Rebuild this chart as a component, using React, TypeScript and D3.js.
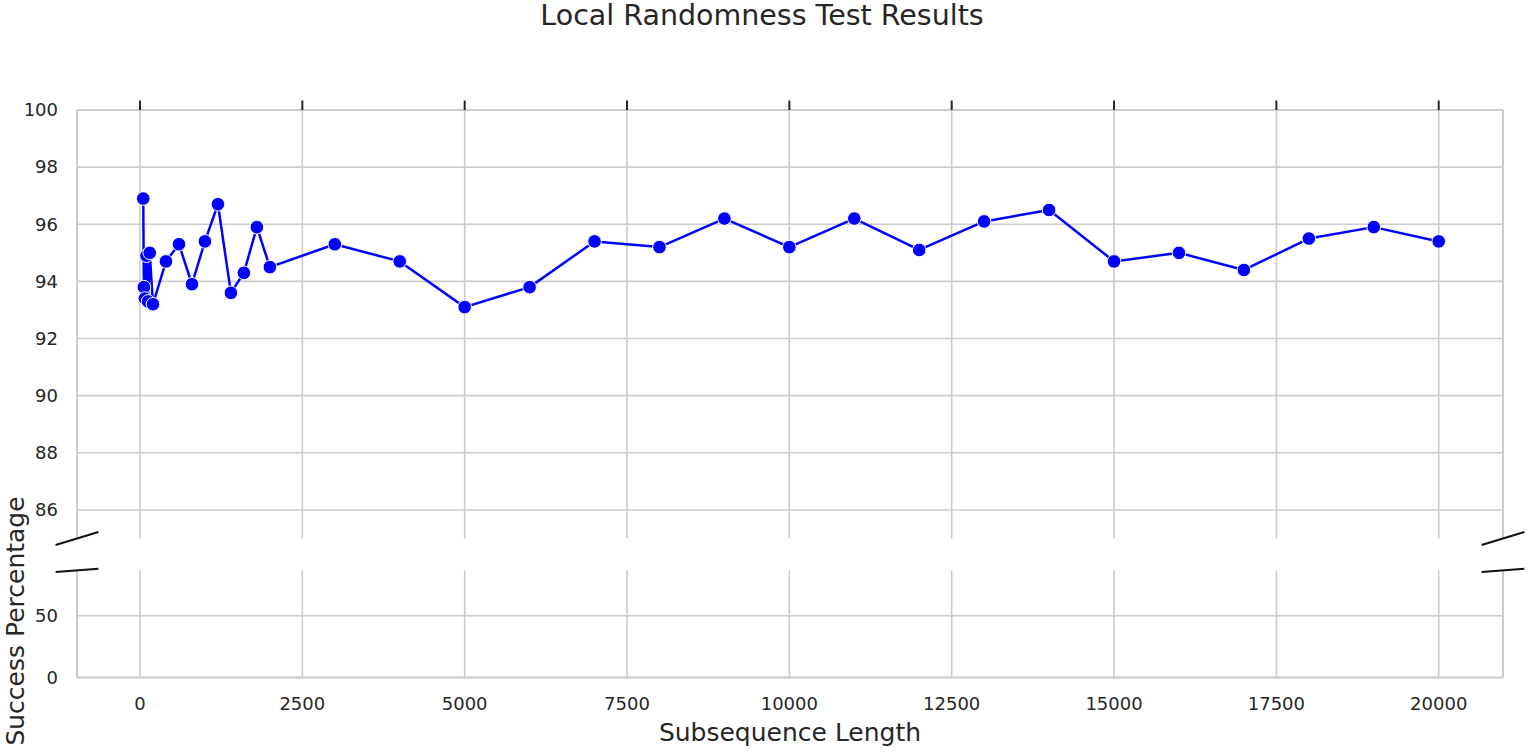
import React from "react";
import * as d3 from "d3";

const subseqLengths = [
  50, 60, 75, 100, 125, 150, 200, 400, 600, 800, 1000, 1200, 1400, 1600, 1800, 2000,
  3000, 4000, 5000, 6000, 7000, 8000, 9000, 10000, 11000, 12000, 13000, 14000, 15000,
  16000, 17000, 18000, 19000, 20000,
];
const successPct = [
  96.9, 93.8, 93.4, 94.9, 93.3, 95.0, 93.2, 94.7, 95.3, 93.9, 95.4, 96.7, 93.6, 94.3, 95.9, 94.5,
  95.3, 94.7, 93.1, 93.8, 95.4, 95.2, 96.2, 95.2, 96.2, 95.1, 96.1, 96.5, 94.7,
  95.0, 94.4, 95.5, 95.9, 95.4,
];
const xTicks = [0, 2500, 5000, 7500, 10000, 12500, 15000, 17500, 20000];
const yTicksTop = [86, 88, 90, 92, 94, 96, 98, 100];
const yTicksBottom = [0, 50];

const W = 1535;
const H = 752;
const L = 77;
const R = 1503;
const topY0 = 110;
const topY1 = 538.5;
const botY0 = 570.3;
const botY1 = 677.5;

const GRID = "#cccccc";
const TEXT = "#262626";
const FONT = "'DejaVu Sans', sans-serif";

export default function App() {
  const x = d3.scaleLinear().domain([-970, 20990]).range([L, R]);
  const yTop = d3.scaleLinear().domain([85, 100]).range([topY1, topY0]);
  const yBot = d3.scaleLinear().domain([0, 86.7]).range([botY1, botY0]);

  const pts = subseqLengths.map((d, i) => [d, successPct[i]] as [number, number]);
  const line = d3
    .line<[number, number]>()
    .x((d) => x(d[0]))
    .y((d) => yTop(d[1]));

  const dTopX = 0.015 * (R - L);
  const dTopY = 0.015 * (topY1 - topY0);
  const dBotY = 0.015 * (botY1 - botY0);

  return (
    <svg
      width={W}
      height={H}
      style={{ position: "absolute", left: 0, top: 0, background: "#fff" }}
      fontFamily={FONT}
    >
      <rect x={0} y={0} width={W} height={H} fill="#fff" />
      <text x={762} y={25} textAnchor="middle" fontSize={28.5} fill={TEXT}>
        Local Randomness Test Results
      </text>

      {yTicksTop.map((t) => (
        <line key={"gt" + t} x1={L} x2={R} y1={yTop(t)} y2={yTop(t)} stroke={GRID} strokeWidth={1.6} />
      ))}
      {xTicks.map((t) => (
        <line key={"gvt" + t} x1={x(t)} x2={x(t)} y1={topY0} y2={topY1} stroke={GRID} strokeWidth={1.6} />
      ))}
      {yTicksBottom.map((t) => (
        <line key={"gb" + t} x1={L} x2={R} y1={yBot(t)} y2={yBot(t)} stroke={GRID} strokeWidth={1.6} />
      ))}
      {xTicks.map((t) => (
        <line key={"gvb" + t} x1={x(t)} x2={x(t)} y1={botY0} y2={botY1} stroke={GRID} strokeWidth={1.6} />
      ))}

      <line x1={L} x2={R} y1={topY0} y2={topY0} stroke={GRID} strokeWidth={2} />
      <line x1={L} x2={L} y1={topY0} y2={topY1} stroke={GRID} strokeWidth={2} />
      <line x1={R} x2={R} y1={topY0} y2={topY1} stroke={GRID} strokeWidth={2} />
      <line x1={L} x2={R} y1={botY1} y2={botY1} stroke={GRID} strokeWidth={2} />
      <line x1={L} x2={L} y1={botY0} y2={botY1} stroke={GRID} strokeWidth={2} />
      <line x1={R} x2={R} y1={botY0} y2={botY1} stroke={GRID} strokeWidth={2} />

      {xTicks.map((t) => (
        <line key={"tt" + t} x1={x(t)} x2={x(t)} y1={topY0 - 9.5} y2={topY0} stroke={TEXT} strokeWidth={2} />
      ))}

      <g stroke="#111" strokeWidth={2}>
        <line x1={L - dTopX} y1={topY1 + dTopY} x2={L + dTopX} y2={topY1 - dTopY} />
        <line x1={R - dTopX} y1={topY1 + dTopY} x2={R + dTopX} y2={topY1 - dTopY} />
        <line x1={L - dTopX} y1={botY0 + dBotY} x2={L + dTopX} y2={botY0 - dBotY} />
        <line x1={R - dTopX} y1={botY0 + dBotY} x2={R + dTopX} y2={botY0 - dBotY} />
      </g>

      {yTicksTop.map((t) => (
        <text key={"yl" + t} x={58} y={yTop(t)} dy="0.35em" textAnchor="end" fontSize={18} fill={TEXT}>
          {t}
        </text>
      ))}
      {yTicksBottom.map((t) => (
        <text key={"ylb" + t} x={58} y={yBot(t)} dy="0.35em" textAnchor="end" fontSize={18} fill={TEXT}>
          {t}
        </text>
      ))}

      {xTicks.map((t) => (
        <text key={"xl" + t} x={x(t)} y={710} textAnchor="middle" fontSize={18} fill={TEXT}>
          {t}
        </text>
      ))}

      <text x={790} y={741} textAnchor="middle" fontSize={25} fill={TEXT}>
        Subsequence Length
      </text>
      <text
        transform={`translate(24, 621) rotate(-90)`}
        textAnchor="middle"
        fontSize={25}
        fill={TEXT}
      >
        Success Percentage
      </text>

      <path d={line(pts) || ""} fill="none" stroke="#0000ff" strokeWidth={2.5} strokeLinejoin="round" />
      {pts.map((p, i) => (
        <circle key={"m" + i} cx={x(p[0])} cy={yTop(p[1])} r={6.8} fill="#0000ff" stroke="#fff" strokeWidth={1} />
      ))}
    </svg>
  );
}
